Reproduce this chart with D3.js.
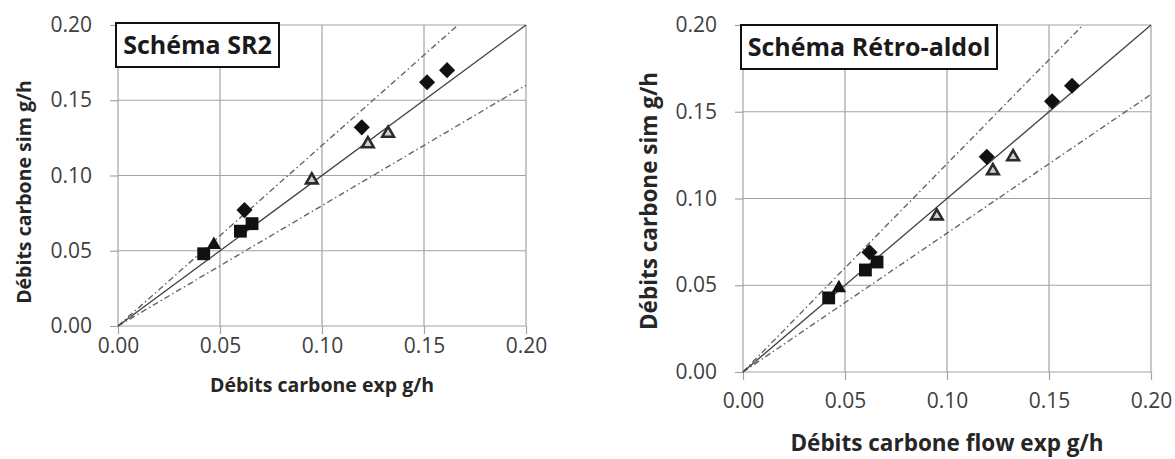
<!DOCTYPE html>
<html><head><meta charset="utf-8">
<script src="https://cdn.jsdelivr.net/npm/d3@7"></script>
<style>body{margin:0;background:#fff}svg{display:block}</style>
</head><body><svg id="c" width="1175" height="459"></svg>
<script>
// ---------- DATA ----------
const tickValues = [0, 0.05, 0.10, 0.15, 0.20];
const tickLabels = ["0.00", "0.05", "0.10", "0.15", "0.20"];
const paritySlope = 1.0;
const bandSlopes = [1.2, 0.8];
const originMark = [0.006, 0.006];

// Schéma SR2
const sr2DiamondX = [0.062, 0.1195, 0.1515, 0.1613];
const sr2DiamondY = [0.077, 0.132, 0.162, 0.170];
const sr2SquareX = [0.042, 0.060, 0.0657];
const sr2SquareY = [0.048, 0.063, 0.068];
const sr2TriFilledX = [0.047];
const sr2TriFilledY = [0.054];
const sr2TriOpenX = [0.095, 0.1225, 0.1324];
const sr2TriOpenY = [0.097, 0.121, 0.128];

// Schéma Rétro-aldol
const raDiamondX = [0.062, 0.1195, 0.1515, 0.1613];
const raDiamondY = [0.069, 0.124, 0.156, 0.165];
const raSquareX = [0.042, 0.060, 0.0657];
const raSquareY = [0.0427, 0.0588, 0.0634];
const raTriFilledX = [0.047];
const raTriFilledY = [0.0484];
const raTriOpenX = [0.095, 0.1225, 0.1324];
const raTriOpenY = [0.0899, 0.116, 0.124];

const titles = ["Schéma SR2", "Schéma Rétro-aldol"];
const xTitles = ["Débits carbone exp g/h", "Débits carbone flow exp g/h"];
const yTitle = "Débits carbone sim g/h";

// ---------- LAYOUT ----------
const svg = d3.select("#c");
const FONT = "'Open Sans', sans-serif";
const GRID = "#a3a3a3";

const panels = [
  {x0:118, x1:526, y0:326, y1:25, xTickGap:12, xTitleY:392, yTitleX:24, yTitleY:192,
   tickFs:21, titleFs:19.5, boxW:163, boxH:44, boxX:116, boxY:23, boxFs:25,
   title:titles[0], xTitle:xTitles[0],
   series:{diamond:[sr2DiamondX,sr2DiamondY], square:[sr2SquareX,sr2SquareY],
           triFilled:[sr2TriFilledX,sr2TriFilledY], triOpen:[sr2TriOpenX,sr2TriOpenY]}},
  {x0:743, x1:1151, y0:372, y1:25, xTickGap:21, xTitleY:451, yTitleX:649, yTitleY:201,
   tickFs:21, titleFs:22.5, boxW:256, boxH:44, boxX:741, boxY:25, boxFs:25,
   title:titles[1], xTitle:xTitles[1],
   series:{diamond:[raDiamondX,raDiamondY], square:[raSquareX,raSquareY],
           triFilled:[raTriFilledX,raTriFilledY], triOpen:[raTriOpenX,raTriOpenY]}}
];

function drawPanel(p) {
  const g = svg.append("g");
  const x = d3.scaleLinear().domain([0, 0.2]).range([p.x0, p.x1]);
  const y = d3.scaleLinear().domain([0, 0.2]).range([p.y0, p.y1]);

  // grid
  g.append("g").selectAll("line").data(tickValues).join("line")
    .attr("x1", d => x(d)).attr("x2", d => x(d))
    .attr("y1", y(0)).attr("y2", y(0.2))
    .attr("stroke", GRID).attr("stroke-width", 1.2);
  g.append("g").selectAll("line").data(tickValues).join("line")
    .attr("x1", x(0)).attr("x2", x(0.2))
    .attr("y1", d => y(d)).attr("y2", d => y(d))
    .attr("stroke", GRID).attr("stroke-width", 1.2);

  // axes
  const fmt = (d, i) => tickLabels[i];
  const ay = g.append("g").attr("transform", `translate(${x(0)},0)`)
    .call(d3.axisLeft(y).tickValues(tickValues).tickFormat(fmt).tickSize(8).tickPadding(18));
  const ax = g.append("g").attr("transform", `translate(0,${y(0)})`)
    .call(d3.axisBottom(x).tickValues(tickValues).tickFormat(fmt).tickSize(8).tickPadding(p.xTickGap - 8));
  [ay, ax].forEach(a => {
    a.select(".domain").remove();
    a.selectAll(".tick line").attr("stroke", GRID).attr("stroke-width", 1.2);
    a.selectAll(".tick text").attr("fill", "#404040")
      .style("font-family", FONT).style("font-size", p.tickFs + "px");
  });

  // reference lines
  const lineGen = d3.line().x(d => x(d[0])).y(d => y(d[1]));
  bandSlopes.forEach(s => {
    const xe = Math.min(0.2, 0.2 / s);
    g.append("path").datum([[0, 0], [xe, xe * s]]).attr("d", lineGen)
      .attr("fill", "none").attr("stroke", "#666").attr("stroke-width", 1.4)
      .attr("stroke-dasharray", "6,3,1.5,3");
  });
  g.append("path").datum([[0, 0], [0.2, 0.2 * paritySlope]]).attr("d", lineGen)
    .attr("fill", "none").attr("stroke", "#404040").attr("stroke-width", 1.3);
  g.append("circle").attr("cx", x(originMark[0])).attr("cy", y(originMark[1]))
    .attr("r", 2).attr("fill", "#888").attr("stroke", "#555").attr("stroke-width", 0.6);

  // markers
  const zip = (xs, ys) => xs.map((v, i) => [v, ys[i]]);
  const s = p.series;
  g.append("g").selectAll("path").data(zip(...s.diamond)).join("path")
    .attr("d", d3.symbol(d3.symbolSquare, 130)())
    .attr("transform", d => `translate(${x(d[0])},${y(d[1])}) rotate(45)`)
    .attr("fill", "#111");
  g.append("g").selectAll("path").data(zip(...s.square)).join("path")
    .attr("d", d3.symbol(d3.symbolSquare, 165)())
    .attr("transform", d => `translate(${x(d[0])},${y(d[1])})`)
    .attr("fill", "#111");
  g.append("g").selectAll("path").data(zip(...s.triFilled)).join("path")
    .attr("d", d3.symbol(d3.symbolTriangle, 90)())
    .attr("transform", d => `translate(${x(d[0])},${y(d[1])})`)
    .attr("fill", "#111");
  g.append("g").selectAll("path").data(zip(...s.triOpen)).join("path")
    .attr("d", d3.symbol(d3.symbolTriangle, 58)())
    .attr("transform", d => `translate(${x(d[0])},${y(d[1])})`)
    .attr("fill", "#cfcfcf").attr("stroke", "#2a2a2a").attr("stroke-width", 2.6)
    .attr("stroke-linejoin", "miter");

  // title box
  g.append("rect").attr("x", p.boxX).attr("y", p.boxY).attr("width", p.boxW).attr("height", p.boxH)
    .attr("fill", "#fff").attr("stroke", "#111").attr("stroke-width", 2);
  g.append("text").attr("x", p.boxX + p.boxW / 2).attr("y", p.boxY + p.boxH / 2)
    .attr("dy", "0.36em").attr("text-anchor", "middle")
    .style("font-family", FONT).style("font-weight", 700).style("font-size", p.boxFs + "px")
    .attr("fill", "#1a1a1a").text(p.title);

  // axis titles
  g.append("text").attr("x", (p.x0 + p.x1) / 2).attr("y", p.xTitleY)
    .attr("text-anchor", "middle")
    .style("font-family", FONT).style("font-weight", 700).style("font-size", p.titleFs + "px")
    .attr("fill", "#262626").text(p.xTitle);
  g.append("text").attr("transform", `translate(${p.yTitleX},${p.yTitleY}) rotate(-90)`)
    .attr("text-anchor", "middle").attr("dy", "0.36em")
    .style("font-family", FONT).style("font-weight", 700).style("font-size", p.titleFs + "px")
    .attr("fill", "#262626").text(yTitle);
}

panels.forEach(drawPanel);
</script></body></html>
